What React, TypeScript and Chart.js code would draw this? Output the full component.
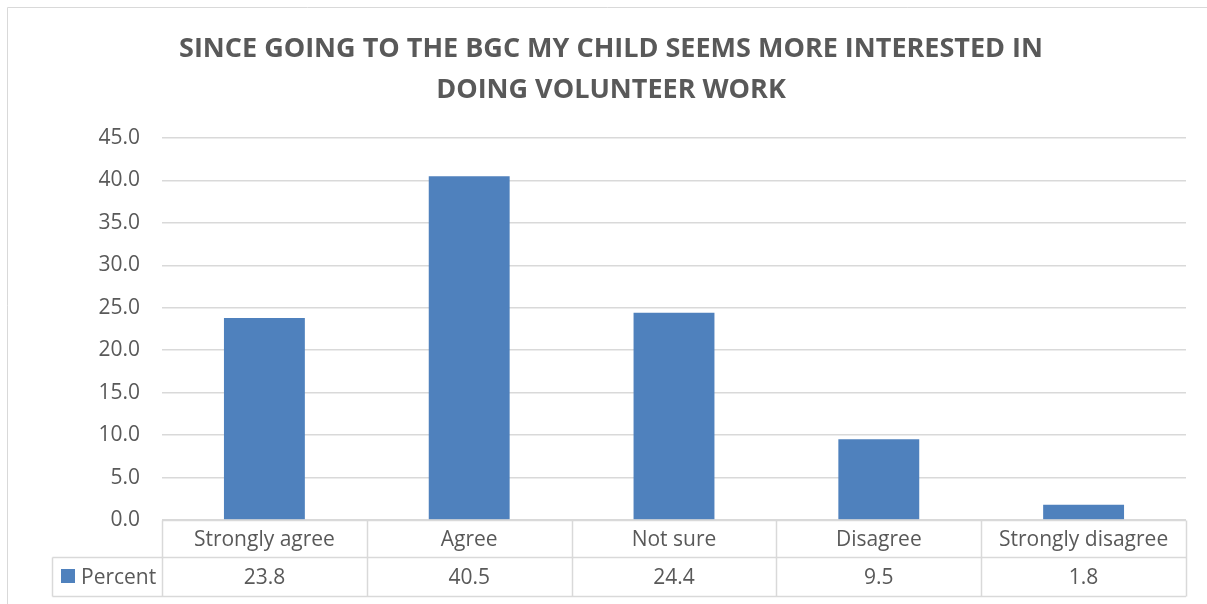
import React, { useEffect, useRef } from "react";
import { Chart, registerables } from "chart.js";

Chart.register(...registerables);

const titleLines = [
  "SINCE GOING TO THE BGC MY CHILD SEEMS MORE INTERESTED IN",
  "DOING VOLUNTEER WORK",
];
const categories = ["Strongly agree", "Agree", "Not sure", "Disagree", "Strongly disagree"];
const seriesName = "Percent";
const percentValues = [23.8, 40.5, 24.4, 9.5, 1.8];
const yTicksMax = 45;
const yTicksStep = 5;

const TEXT = "#595959";
const GRID = "#D9D9D9";
const BAR = "#4F81BD";
const FONT = "'Open Sans', 'Noto Sans', sans-serif";

const tablePlugin = {
  id: "excelTable",
  afterDraw(chart: any) {
    const ctx = chart.ctx as CanvasRenderingContext2D;
    const area = chart.chartArea;
    const xs = chart.scales.x;
    ctx.save();
    // outer frame
    ctx.strokeStyle = GRID;
    ctx.lineWidth = 1;
    ctx.beginPath();
    ctx.moveTo(7.5, chart.height);
    ctx.lineTo(7.5, 7.5);
    ctx.lineTo(chart.width, 7.5);
    ctx.stroke();

    // title
    ctx.fillStyle = TEXT;
    ctx.font = `bold 27px ${FONT}`;
    ctx.textAlign = "center";
    ctx.textBaseline = "alphabetic";
    const cx = 611;
    ctx.fillText(titleLines[0], cx, 57);
    ctx.fillText(titleLines[1], cx, 98);

    // table
    const top = Math.round(area.bottom) + 0.5;
    const mid = top + 37;
    const bot = top + 76;
    const labelLeft = 52.5;
    const n = categories.length;
    const catW = (area.right - area.left) / n;
    const edges: number[] = [];
    for (let i = 0; i < n; i++) {
      edges.push(xs.getPixelForValue(i) - catW / 2);
    }
    edges.push(xs.getPixelForValue(n - 1) + catW / 2);

    ctx.strokeStyle = GRID;
    ctx.lineWidth = 1.5;
    ctx.beginPath();
    ctx.moveTo(edges[0], top);
    ctx.lineTo(edges[n], top);
    ctx.moveTo(labelLeft, mid);
    ctx.lineTo(edges[n], mid);
    ctx.moveTo(labelLeft, bot);
    ctx.lineTo(edges[n], bot);
    ctx.moveTo(labelLeft, mid);
    ctx.lineTo(labelLeft, bot);
    for (const e of edges) {
      const ex = Math.round(e) + 0.5;
      ctx.moveTo(ex, top);
      ctx.lineTo(ex, bot);
    }
    ctx.stroke();

    ctx.fillStyle = TEXT;
    ctx.font = `21px ${FONT}`;
    ctx.textAlign = "center";
    ctx.textBaseline = "middle";
    for (let i = 0; i < n; i++) {
      const x = xs.getPixelForValue(i);
      ctx.fillText(categories[i], x, (top + mid) / 2 + 1);
      ctx.fillText(percentValues[i].toFixed(1), x, (mid + bot) / 2 + 1);
    }
    // legend key
    ctx.fillStyle = BAR;
    ctx.fillRect(61, 569, 14, 14);
    ctx.fillStyle = TEXT;
    ctx.textAlign = "left";
    ctx.fillText(seriesName, 81, (mid + bot) / 2 + 1);
    ctx.restore();
  },
};

export default function App() {
  const ref = useRef<HTMLCanvasElement>(null);
  useEffect(() => {
    if (!ref.current) return;
    const chart = new Chart(ref.current, {
      type: "bar",
      data: {
        labels: categories,
        datasets: [
          {
            label: seriesName,
            data: percentValues,
            backgroundColor: BAR,
            borderWidth: 0,
            barPercentage: 0.395,
            categoryPercentage: 1,
          },
        ],
      },
      options: {
        responsive: false,
        animation: false,
        devicePixelRatio: 1,
        layout: { padding: { left: 0, top: 138, right: 21, bottom: 84 } },
        plugins: {
          legend: { display: false },
          title: { display: false },
          tooltip: { enabled: false },
        },
        scales: {
          x: { display: false },
          y: {
            min: 0,
            max: yTicksMax,
            afterFit: (scale: any) => {
              scale.width = 162;
            },
            ticks: {
              stepSize: yTicksStep,
              padding: 22,
              color: TEXT,
              font: { family: FONT, size: 21 },
              callback: (v: any) => Number(v).toFixed(1),
            },
            grid: { color: GRID, drawTicks: false, tickLength: 0, lineWidth: 1.5 },
            border: { display: false },
          },
        },
      },
      plugins: [tablePlugin],
    });
    return () => chart.destroy();
  }, []);
  return (
    <div style={{ position: "fixed", left: 0, top: 0, width: 1207, height: 604, background: "#fff" }}>
      <canvas ref={ref} width={1207} height={604} />
    </div>
  );
}
